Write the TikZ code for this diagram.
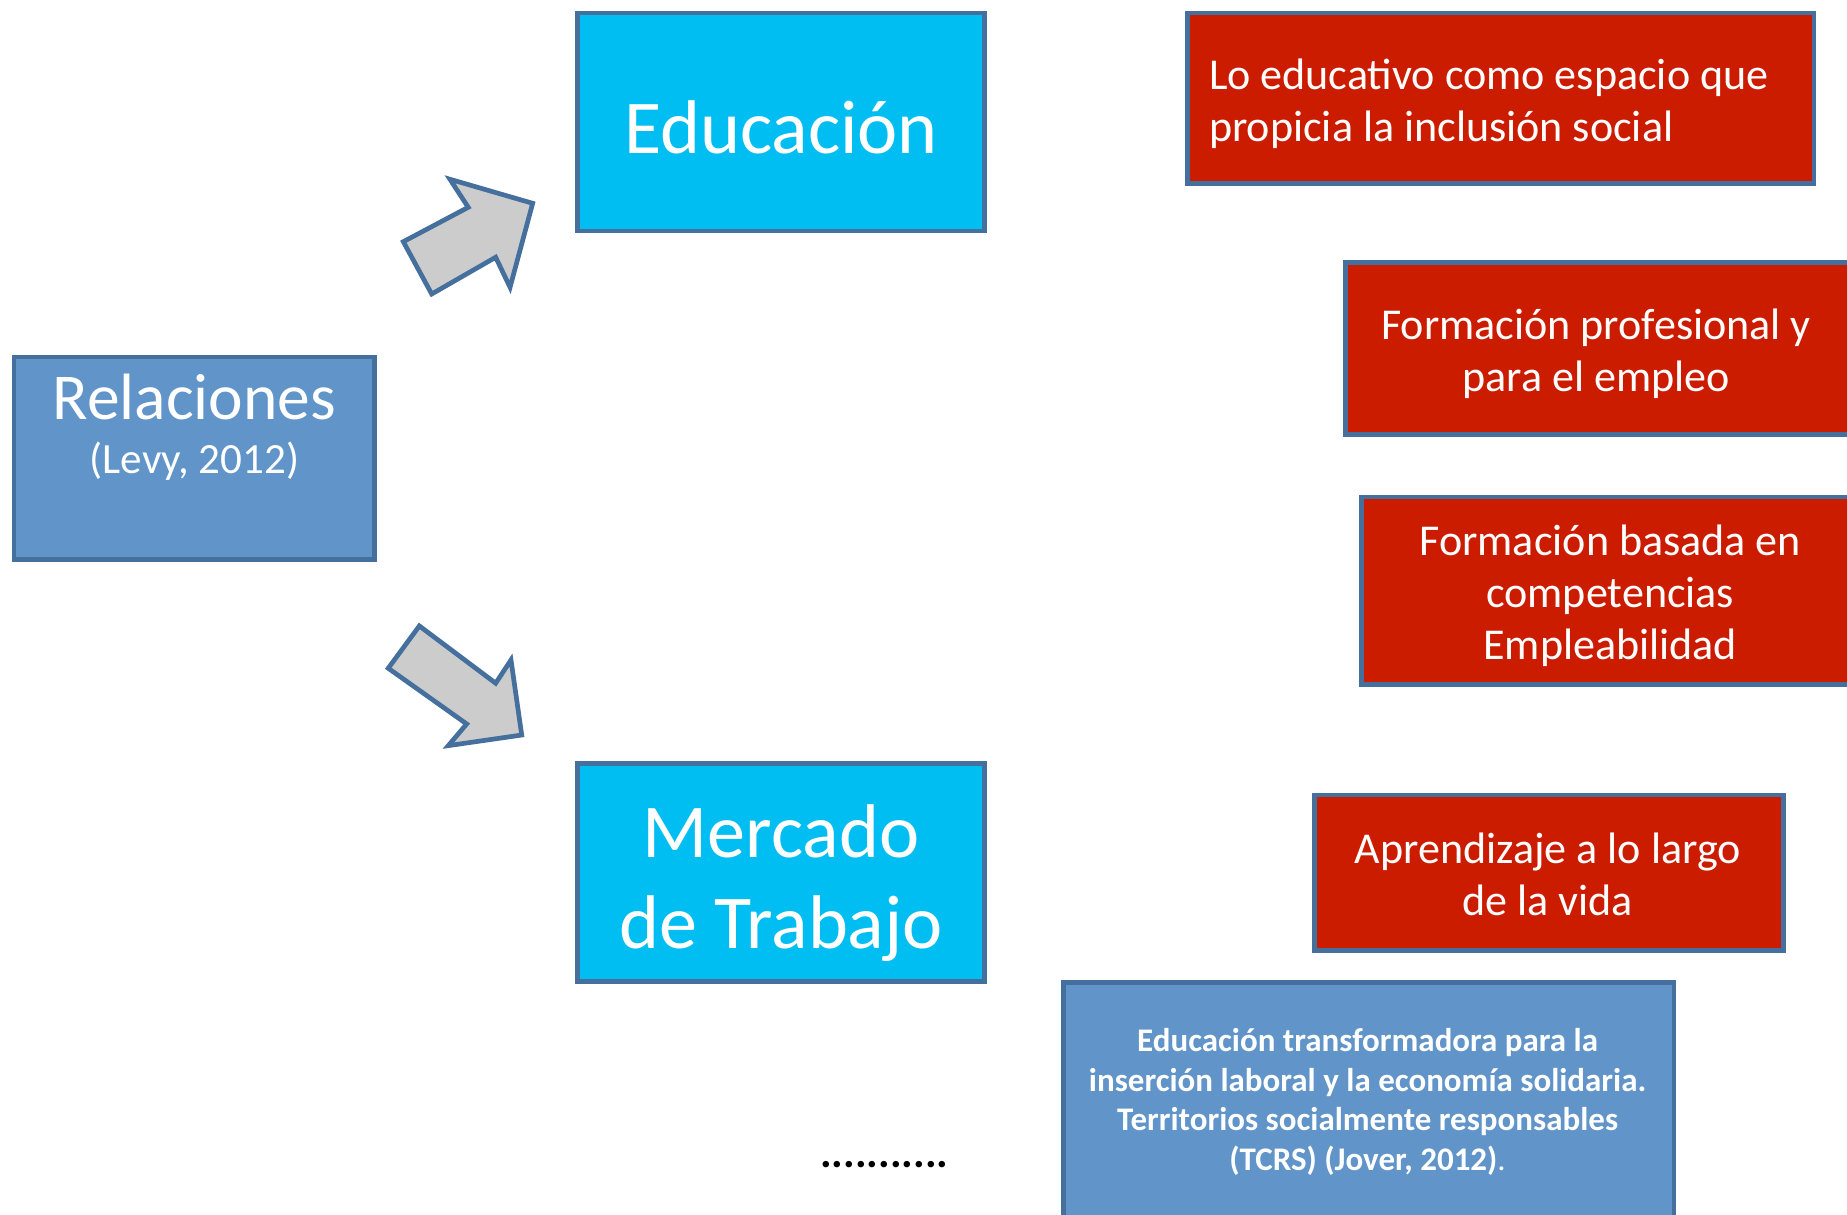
\documentclass[tikz,border=0pt]{standalone}
\usepackage{fontspec}
\setmainfont{Carlito}
\usetikzlibrary{fit}
\definecolor{cyanbox}{HTML}{00BEF2}
\definecolor{bluebox}{HTML}{6194C8}
\definecolor{edge}{HTML}{45709D}
\definecolor{redbox}{HTML}{CC1C00}
\definecolor{arrowgray}{HTML}{CCCCCC}
\begin{document}
\begin{tikzpicture}[x=0.5pt,y=-0.5pt,
  box/.style={draw=edge, line width=2pt, inner sep=0pt, rectangle},
  cyanb/.style={box, fill=cyanbox},
  blueb/.style={box, fill=bluebox},
  redb/.style={box, fill=redbox},
  fat/.style={draw=edge, fill=arrowgray, line width=2pt, line join=miter},
  txt/.style={text=white, inner sep=0pt, anchor=base, text width=300pt, align=center, execute at begin node={\spaceskip=\fontdimen2\font\xspaceskip=\fontdimen2\font\relax}},
  bigtxt/.style={txt, font=\fontsize{32.3}{38.5}\selectfont},
  redtxt/.style={txt, font=\fontsize{18.7}{22}\selectfont},
  boldtxt/.style={txt, font=\fontsize{14}{16.75}\selectfont\bfseries}
]
\useasboundingbox (0,0) rectangle (1568,1031);
\fill[white] (0,0) rectangle (1568,1031);

% boxes
\node[blueb, fit={(12,303) (318,475)}] (rel) {};
\node[cyanb, fit={(490,11) (836,196)}] (edu) {};
\node[cyanb, fit={(490,648) (836,833)}] (mer) {};
\node[redb, fit={(1008,11) (1540,156)}] (r1) {};
\node[redb, fit={(1142,223) (1600,369)}] (r2) {};
\node[redb, fit={(1156,422) (1600,581)}] (r3) {};
\node[redb, fit={(1116,675) (1514,807)}] (r4) {};
\node[blueb, fit={(903,834) (1421,1070)}] (bb) {};

% arrows
\draw[fat] (342.4,205.2) -- (366.5,249.6) -- (420.8,218.4) -- (433,243.9) -- (452.2,172.6) -- (382,152.2) -- (397.5,176) -- cycle;
\draw[fat] (329.6,567.3) -- (356,531.4) -- (420.8,580) -- (433.8,560.3) -- (442.9,624) -- (380.6,633) -- (396.2,614.6) -- cycle;

% texts
\node[text=white, inner sep=0pt, anchor=base, font=\fontsize{27.8}{33}\selectfont] (reltxt) at (165,356) {Relaciones};
\node[text=white, inner sep=0pt, anchor=base, font=\fontsize{18.3}{22}\selectfont] (levy) at (165,402) {(Levy, 2012)};
\node[bigtxt] (edutxt) at (663,130) {Educación};
\node[bigtxt] (mertxt) at (663,728) {Mercado\\de Trabajo};
\node[redtxt, align=left, anchor=base west] (r1txt) at (1026,76) {Lo educativo como espacio que\\propicia la inclusión social};
\node[redtxt] (r2txt) at (1355,288) {Formación profesional y\\para el empleo};
\node[redtxt] (r3txt) at (1367,472) {Formación basada en\\competencias\\Empleabilidad};
\node[redtxt] (r4txt) at (1314,733) {Aprendizaje a lo largo\\de la vida};
\node[boldtxt] (bbtxt) at (1161,893) {Educación transformadora para la\\inserción laboral y la economía solidaria.\\Territorios socialmente responsables\\(TCRS) (Jover, 2012){\mdseries .}};
\node[inner sep=0pt, anchor=base west, font=\fontsize{18.5}{22}\selectfont\bfseries] (dots) at (696,991) {...........};
\end{tikzpicture}
\end{document}
